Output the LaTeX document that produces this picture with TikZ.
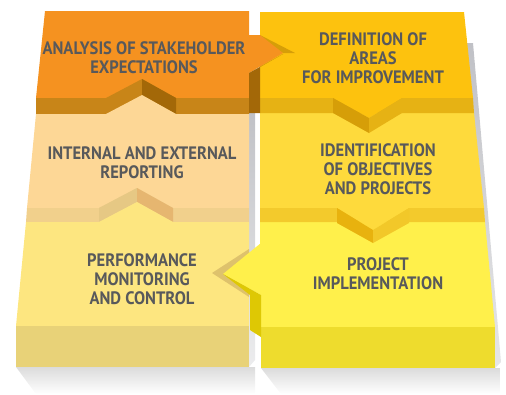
\documentclass[tikz,border=0pt]{standalone}
\usepackage{fontspec}
\setmainfont{PT Sans}[FakeStretch=0.92]
\usetikzlibrary{positioning}
\definecolor{txtgrey}{RGB}{88,89,91}
\definecolor{orgtop}{RGB}{245,146,32}
\definecolor{orgband}{RGB}{200,133,24}
\definecolor{orgdark}{RGB}{163,104,8}
\definecolor{deftop}{RGB}{253,194,14}
\definecolor{defband}{RGB}{230,178,20}
\definecolor{defdark}{RGB}{214,158,8}
\definecolor{reptop}{RGB}{253,215,150}
\definecolor{repband}{RGB}{241,208,140}
\definecolor{repdark}{RGB}{230,182,112}
\definecolor{repleft}{RGB}{230,200,132}
\definecolor{objtop}{RGB}{254,218,60}
\definecolor{objband}{RGB}{243,202,44}
\definecolor{objdark}{RGB}{232,178,14}
\definecolor{montop}{RGB}{253,230,128}
\definecolor{monband}{RGB}{232,210,120}
\definecolor{monnotch}{RGB}{222,194,108}
\definecolor{imptop}{RGB}{255,240,75}
\definecolor{impband}{RGB}{238,220,45}
\definecolor{impdark}{RGB}{222,200,4}
\definecolor{sidegrey}{RGB}{192,193,198}

\begin{document}
\begin{tikzpicture}[x=1pt,y=-1pt,
  lbl/.style={font=\bfseries\fontsize{18}{18.8}\selectfont,text=txtgrey,
    align=center,inner sep=0pt}]
  \useasboundingbox (0,0) rectangle (506,394);
  % shadows
  \shade[top color=gray!28,bottom color=white] (16,367) -- (255,367) -- (255,394) -- (36,394) -- cycle;
  \shade[top color=gray!28,bottom color=white] (261,368) -- (500,368) -- (500,394) -- (281,394) -- cycle;
  \shade[top color=sidegrey,bottom color=sidegrey!30] (249,110) -- (255,110) -- (255,360) -- (249,367) -- cycle;
  \shade[top color=sidegrey,bottom color=sidegrey!40] (465,43) -- (473,43) -- (501,362) -- (495,368) -- cycle;
  % right column
  \fill[deftop] (260,12) -- (464,12) -- (473,98) -- (260,98) -- cycle;
  \fill[objtop] (260,113) -- (474,113) -- (484,208) -- (260,208) -- cycle;
  \fill[defband] (260,98) -- (473,98) -- (474,113) -- (260,113) -- cycle;
  \fill[deftop] (333,98) -- (369,118) -- (402,98) -- cycle;
  \fill[defdark] (333,98) -- (369,118) -- (369,133) -- (333,113) -- cycle;
  \fill[defband] (369,118) -- (402,98) -- (402,113) -- (369,133) -- cycle;
  \fill[imptop] (260,222) -- (485,222) -- (495,327) -- (261,327) -- cycle;
  \fill[objband] (260,208) -- (484,208) -- (485,222) -- (260,222) -- cycle;
  \fill[objtop] (337,208) -- (373,230) -- (409,208) -- cycle;
  \fill[objdark] (337,208) -- (373,230) -- (373,243) -- (337,223) -- cycle;
  \fill[objband!90!objdark] (373,230) -- (409,208) -- (409,223) -- (373,243) -- cycle;
  \fill[impband] (261,327) -- (495,327) -- (495,368) -- (261,368) -- cycle;
  % left column
  \fill[orgtop] (45,11) -- (249,11) -- (249,98) -- (36,98) -- cycle;
  \fill[orgband] (36,98) -- (106,98) -- (142,79) -- (176,98) -- (249,98) -- (249,114)
    -- (36,114) -- cycle;
  \fill[orgdark] (142,79) -- (176,98) -- (176,114) -- (142,95) -- cycle;
  \fill[reptop] (36,114) -- (106,114) -- (142,95) -- (176,114) -- (249,114) -- (249,208)
    -- (27,208) -- cycle;
  \fill[repband] (27,208) -- (99,208) -- (137,188) -- (173,208) -- (249,208) -- (249,222)
    -- (26,222) -- cycle;
  \fill[repleft] (99,208) -- (137,188) -- (137,202) -- (99,222) -- cycle;
  \fill[repdark] (137,188) -- (173,208) -- (173,222) -- (137,202) -- cycle;
  \fill[montop] (26,222) -- (99,222) -- (137,202) -- (173,222) -- (249,222) -- (249,326)
    -- (16,326) -- cycle;
  \fill[monband] (16,326) -- (249,326) -- (249,367) -- (16,367) -- cycle;
  % side tabs
  \fill[defdark] (260,35) -- (295,53) -- (283,53) -- (260,41) -- cycle;
  \fill[orgtop] (249,35) -- (260,35) -- (283,53) -- (249,73) -- cycle;
  \fill[orgdark] (249,73) -- (283,54) -- (260,67) -- (260,113) -- (249,113) -- cycle;
  \fill[monnotch] (249,249) -- (212,273) -- (249,297) -- cycle;
  \fill[imptop] (261,243) -- (223,274) -- (261,295) -- cycle;
  \fill[impdark] (223,274) -- (261,295) -- (261,337) -- (250,330) -- (250,295) -- cycle;
  % labels
  \node[lbl] (ana) at (144,57.5) {ANALYSIS OF STAKEHOLDER\\EXPECTATIONS};
  \node[lbl] (def) at (373,58) {DEFINITION OF\\AREAS\\FOR IMPROVEMENT};
  \node[lbl] (rep) at (142,163) {INTERNAL AND EXTERNAL\\REPORTING};
  \node[lbl] (obj) at (378,169) {IDENTIFICATION\\OF OBJECTIVES\\AND PROJECTS};
  \node[lbl] (mon) at (142,279) {PERFORMANCE\\MONITORING\\AND CONTROL};
  \node[lbl] (imp) at (378,273.5) {PROJECT\\IMPLEMENTATION};
\end{tikzpicture}
\end{document}
